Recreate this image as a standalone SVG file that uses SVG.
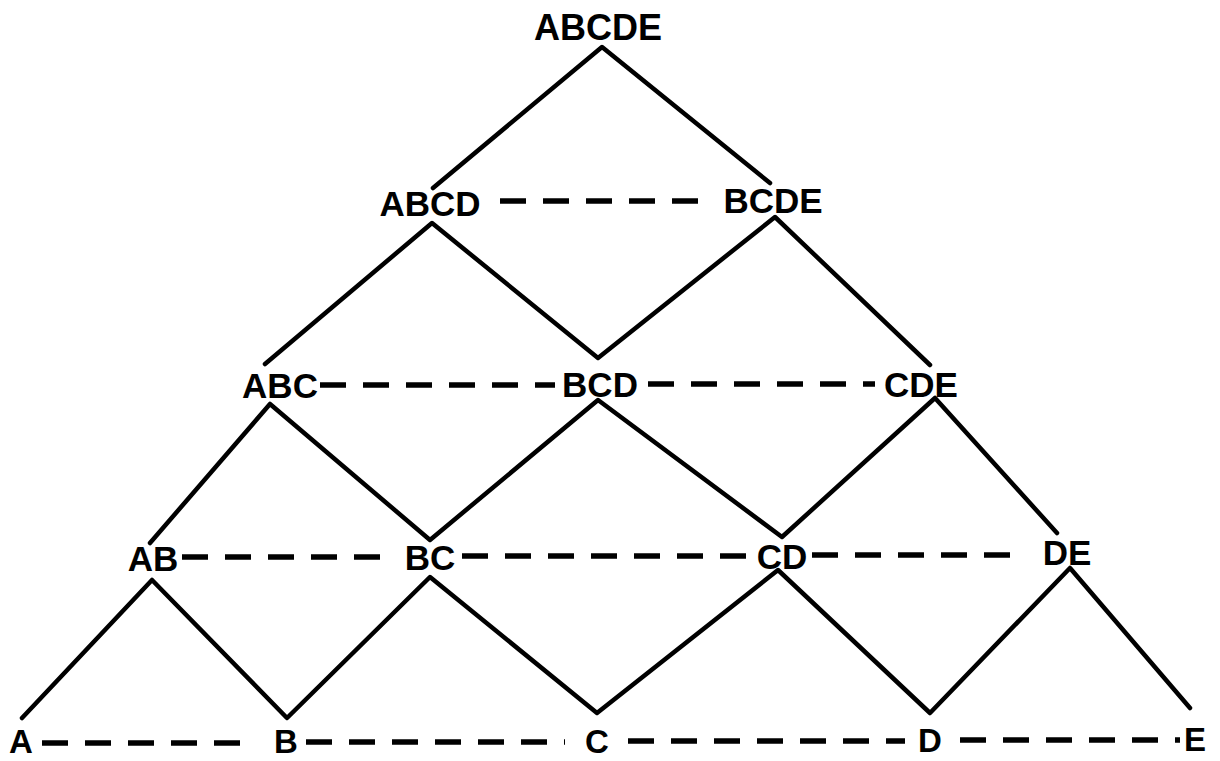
<svg xmlns="http://www.w3.org/2000/svg" width="1220" height="761" viewBox="0 0 1220 761">
<style>
.bg{fill:#ffffff}
.lbl{font-family:"Liberation Sans",Arial,sans-serif;font-weight:bold;fill:#000;text-anchor:middle}
.t1{font-size:36px}
.t2{font-size:35px}
.t3{font-size:33px}
.edge{stroke:#000;stroke-width:4.5;fill:none;stroke-linecap:round;stroke-linejoin:round}
.dash{stroke:#000;stroke-width:5.5;fill:none;stroke-dasharray:26 17}
</style>
<rect class="bg" x="0" y="0" width="1220" height="761"/>
<g id="connectors">
<polyline class="edge" points="433,188 602,47 770,183"/>
<polyline class="edge" points="265,364 432,223 598,358 775,217 930,365"/>
<polyline class="edge" points="150,543 270,404 430,540 598,400 782,537 935,398 1057,533"/>
<polyline class="edge" points="22,718 152,580 287,718 430,577 597,713 778,570 930,713 1070,568 1190,708"/>
<line class="dash" x1="500" y1="201" x2="702" y2="201"/>
<line class="dash" x1="320" y1="385" x2="555" y2="385"/>
<line class="dash" x1="648" y1="384" x2="875" y2="384"/>
<line class="dash" x1="182" y1="557" x2="385" y2="557"/>
<line class="dash" x1="462" y1="556" x2="752" y2="556"/>
<line class="dash" x1="812" y1="555" x2="1015" y2="555"/>
<line class="dash" x1="42" y1="743" x2="255" y2="743"/>
<line class="dash" x1="306" y1="742" x2="565" y2="742"/>
<line class="dash" x1="628" y1="741" x2="905" y2="741"/>
<line class="dash" x1="960" y1="740" x2="1180" y2="740"/>
</g>
<g id="n-ABCDE"><text class="lbl t1" x="598" y="40">ABCDE</text></g>
<g id="n-ABCD"><text class="lbl t2" x="430" y="216">ABCD</text></g>
<g id="n-BCDE"><text class="lbl t2" x="773" y="213">BCDE</text></g>
<g id="n-ABC"><text class="lbl t2" x="280" y="398">ABC</text></g>
<g id="n-BCD"><text class="lbl t2" x="600" y="397">BCD</text></g>
<g id="n-CDE"><text class="lbl t2" x="921" y="397">CDE</text></g>
<g id="n-AB"><text class="lbl t2" x="153" y="571">AB</text></g>
<g id="n-BC"><text class="lbl t2" x="430" y="570">BC</text></g>
<g id="n-CD"><text class="lbl t2" x="782" y="569">CD</text></g>
<g id="n-DE"><text class="lbl t2" x="1067" y="565">DE</text></g>
<g id="n-A"><text class="lbl t3" x="21" y="753">A</text></g>
<g id="n-B"><text class="lbl t3" x="286" y="753">B</text></g>
<g id="n-C"><text class="lbl t3" x="597" y="753">C</text></g>
<g id="n-D"><text class="lbl t3" x="930" y="752">D</text></g>
<g id="n-E"><text class="lbl t3" x="1195" y="751">E</text></g>
</svg>
